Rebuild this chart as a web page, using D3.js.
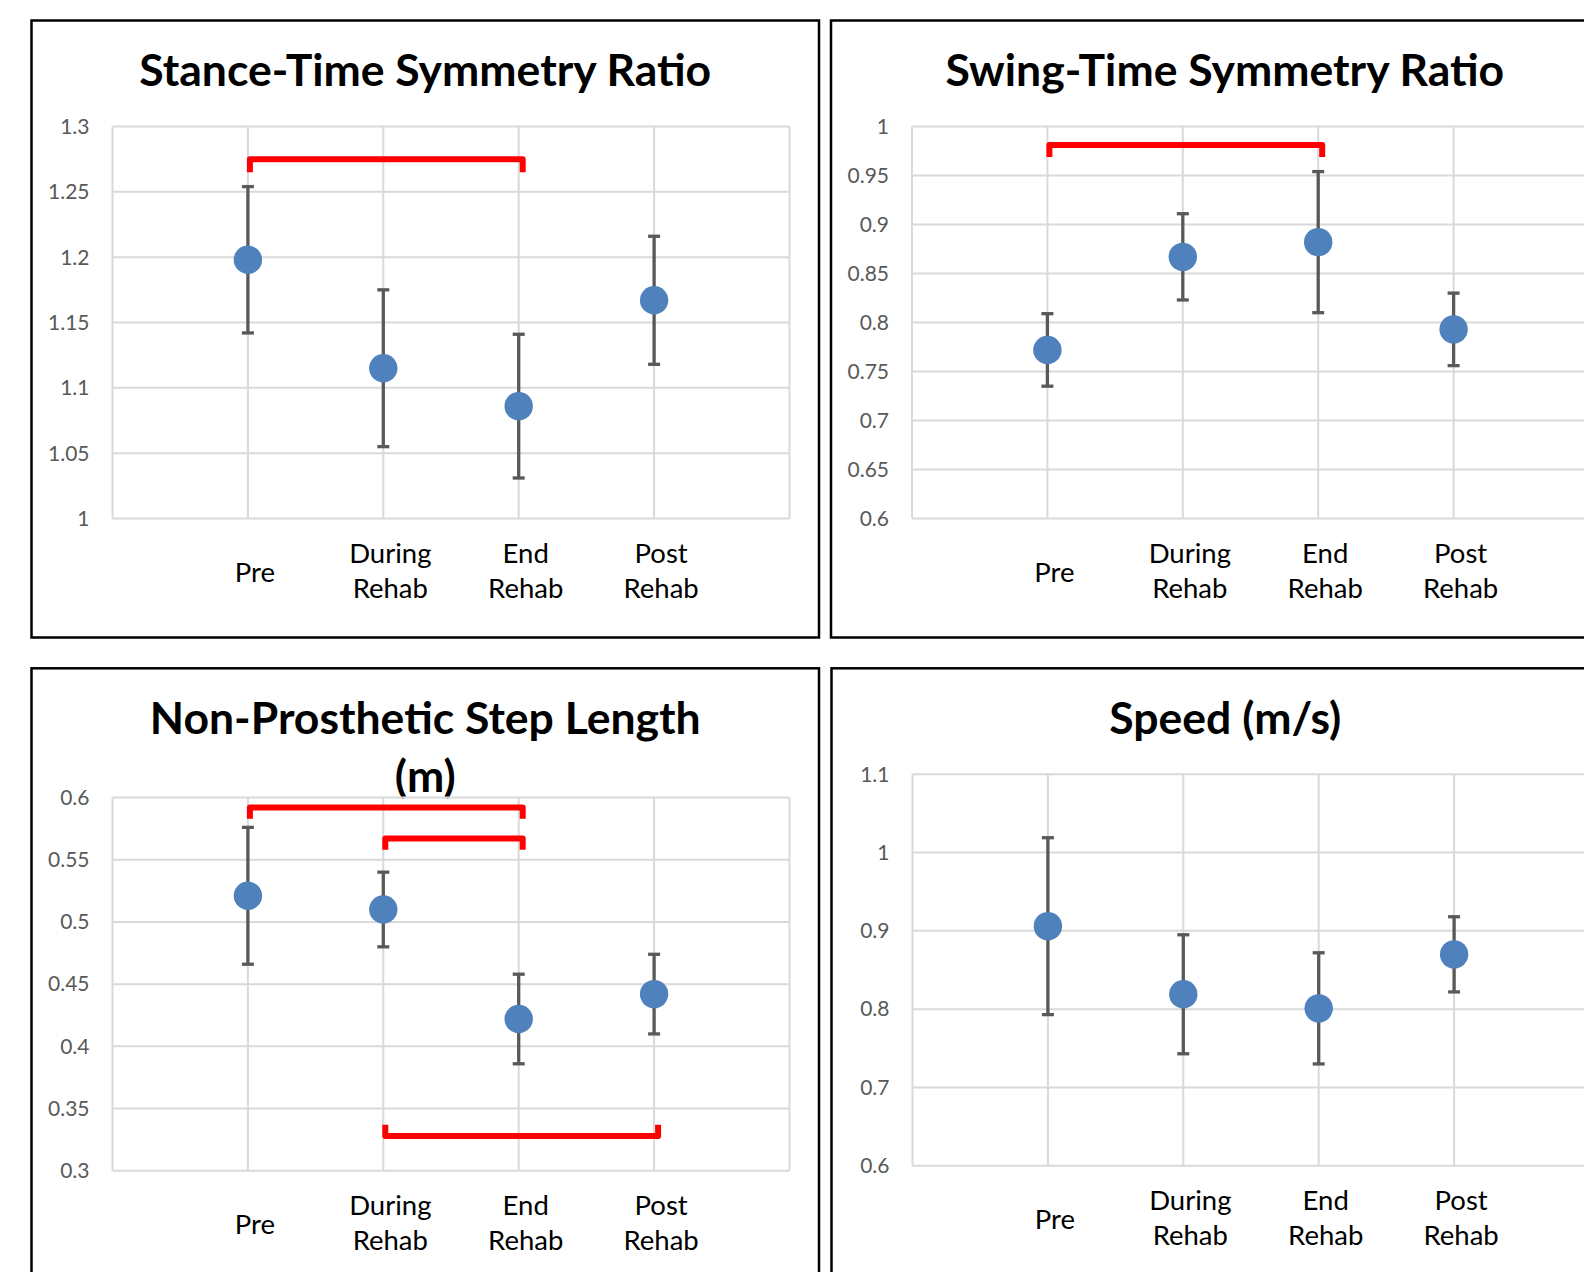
<!DOCTYPE html>
<html>
<head>
<meta charset="utf-8">
<script src="https://cdn.jsdelivr.net/npm/d3@7"></script>
<style>
  body { margin: 0; background: #fff; }
</style>
</head>
<body>
<div id="chart"></div>
<script>
// categories shared by all four panels
const categories = ['Pre', 'During Rehab', 'End Rehab', 'Post Rehab'];

// stance-time symmetry ratio
const stanceMean = [1.198, 1.115, 1.086, 1.167];
const stanceErr = [0.056, 0.060, 0.055, 0.049];
const stanceTicks = [1, 1.05, 1.1, 1.15, 1.2, 1.25, 1.3];
const stanceBrackets = [[0, 2, 1.275, 1.265]]; // from, to, bar value, leg end value

// swing-time symmetry ratio
const swingMean = [0.772, 0.867, 0.882, 0.793];
const swingErr = [0.037, 0.044, 0.072, 0.037];
const swingTicks = [0.6, 0.65, 0.7, 0.75, 0.8, 0.85, 0.9, 0.95, 1];
const swingBrackets = [[0, 2, 0.981, 0.969]];

// non-prosthetic step length (m)
const stepMean = [0.521, 0.510, 0.422, 0.442];
const stepErr = [0.055, 0.030, 0.036, 0.032];
const stepTicks = [0.3, 0.35, 0.4, 0.45, 0.5, 0.55, 0.6];
const stepBrackets = [[0, 2, 0.592, 0.583], [1, 2, 0.567, 0.558], [1, 3, 0.328, 0.337]];

// speed (m/s)
const speedMean = [0.906, 0.819, 0.801, 0.870];
const speedErr = [0.113, 0.076, 0.071, 0.048];
const speedTicks = [0.6, 0.7, 0.8, 0.9, 1, 1.1];
const speedBrackets = [];

const FONT = 'Lato, "Open Sans", sans-serif';
const W = 1584, H = 1272;
const FRAME_W = 787.5, FRAME_H = 617;

const panels = [
  { title: ['Stance-Time Symmetry Ratio'], mean: stanceMean, err: stanceErr, ticks: stanceTicks, brackets: stanceBrackets, fx: 31.5, fy: 20.5, top: 106, bottom: 498 },
  { title: ['Swing-Time Symmetry Ratio'], mean: swingMean, err: swingErr, ticks: swingTicks, brackets: swingBrackets, fx: 831, fy: 20.5, top: 106, bottom: 498 },
  { title: ['Non-Prosthetic Step Length', '(m)'], mean: stepMean, err: stepErr, ticks: stepTicks, brackets: stepBrackets, fx: 31.5, fy: 668.3, top: 129.2, bottom: 502.5 },
  { title: ['Speed (m/s)'], mean: speedMean, err: speedErr, ticks: speedTicks, brackets: speedBrackets, fx: 831.5, fy: 668.3, top: 106, bottom: 497.4 }
];

const svg = d3.select('#chart')
  .append('svg')
  .attr('width', W)
  .attr('height', H)
  .style('font-family', FONT);

svg.append('rect').attr('width', W).attr('height', H).style('fill', '#fff');

// one title size for all panels, fitted on the first title
const titleSize = fitSize(svg, 'Stance-Time Symmetry Ratio', 572);

panels.forEach(p => renderPanel(svg, p));

function fitSize(container, text, targetWidth) {
  const t = container.append('text')
    .style('font-size', '40px').style('font-weight', '700').text(text);
  const w = t.node().getComputedTextLength();
  t.remove();
  return 40 * targetWidth / w;
}

function renderPanel(container, p) {
  const g = container.append('g').attr('transform', `translate(${p.fx}, ${p.fy})`);
  const left = 81, right = 758;

  // outer frame
  g.append('rect')
    .attr('width', FRAME_W).attr('height', FRAME_H)
    .style('fill', 'none').style('stroke', '#000').style('stroke-width', '2.5');

  // title
  p.title.forEach((line, i) => {
    g.append('text')
      .attr('x', FRAME_W / 2).attr('y', 65.5 + i * 58)
      .style('font-size', titleSize + 'px').style('font-weight', '700')
      .style('fill', '#000').style('text-anchor', 'middle')
      .text(line);
  });

  const x = d3.scalePoint().domain(categories).range([left, right]).padding(1);
  const y = d3.scaleLinear()
    .domain(d3.extent(p.ticks))
    .range([p.bottom, p.top]);

  // gridlines
  g.append('g').selectAll('line.h').data(p.ticks).join('line')
    .attr('x1', left).attr('x2', right)
    .attr('y1', d => y(d)).attr('y2', d => y(d))
    .style('stroke', '#d9d9d9').style('stroke-width', '2');

  g.append('g').selectAll('line.v').data([left, ...categories.map(c => x(c)), right]).join('line')
    .attr('x1', d => d).attr('x2', d => d)
    .attr('y1', p.top).attr('y2', p.bottom)
    .style('stroke', '#d9d9d9').style('stroke-width', '2');

  // y tick labels
  g.append('g').selectAll('text').data(p.ticks).join('text')
    .attr('x', left - 23).attr('y', d => y(d))
    .attr('dy', '0.35em')
    .style('font-size', '21px').style('fill', '#595959')
    .style('text-anchor', 'end')
    .text(d => String(+d.toFixed(2)));

  // category labels
  categories.forEach(c => {
    const words = c.split(' ');
    const ys = words.length === 1 ? [63] : [44, 79];
    words.forEach((w, i) => {
      g.append('text')
        .attr('x', x(c) + 7).attr('y', p.bottom + ys[i])
        .style('font-size', '27.5px').style('fill', '#000')
        .style('text-anchor', 'middle')
        .text(w);
    });
  });

  // significance brackets
  p.brackets.forEach(([from, to, bar, leg]) => {
    const x1 = x(categories[from]) + 2, x2 = x(categories[to]) + 4;
    g.append('path')
      .attr('d', `M${x1},${y(leg)}V${y(bar)}H${x2}V${y(leg)}`)
      .style('fill', 'none').style('stroke', '#ff0000')
      .style('stroke-width', '6').style('stroke-linejoin', 'round');
  });

  // error bars
  const eb = g.append('g').selectAll('g').data(categories).join('g');
  eb.append('line')
    .attr('x1', c => x(c)).attr('x2', c => x(c))
    .attr('y1', (c, i) => y(p.mean[i] - p.err[i]))
    .attr('y2', (c, i) => y(p.mean[i] + p.err[i]))
    .style('stroke', '#595959').style('stroke-width', '3.3');
  [-1, 1].forEach(sign => {
    eb.append('line')
      .attr('x1', c => x(c) - 6).attr('x2', c => x(c) + 6)
      .attr('y1', (c, i) => y(p.mean[i] + sign * p.err[i]))
      .attr('y2', (c, i) => y(p.mean[i] + sign * p.err[i]))
      .style('stroke', '#595959').style('stroke-width', '3.3');
  });

  // markers
  g.append('g').selectAll('circle').data(categories).join('circle')
    .attr('cx', c => x(c))
    .attr('cy', (c, i) => y(p.mean[i]))
    .attr('r', 14.2)
    .style('fill', '#4f81bd');
}
</script>
</body>
</html>
